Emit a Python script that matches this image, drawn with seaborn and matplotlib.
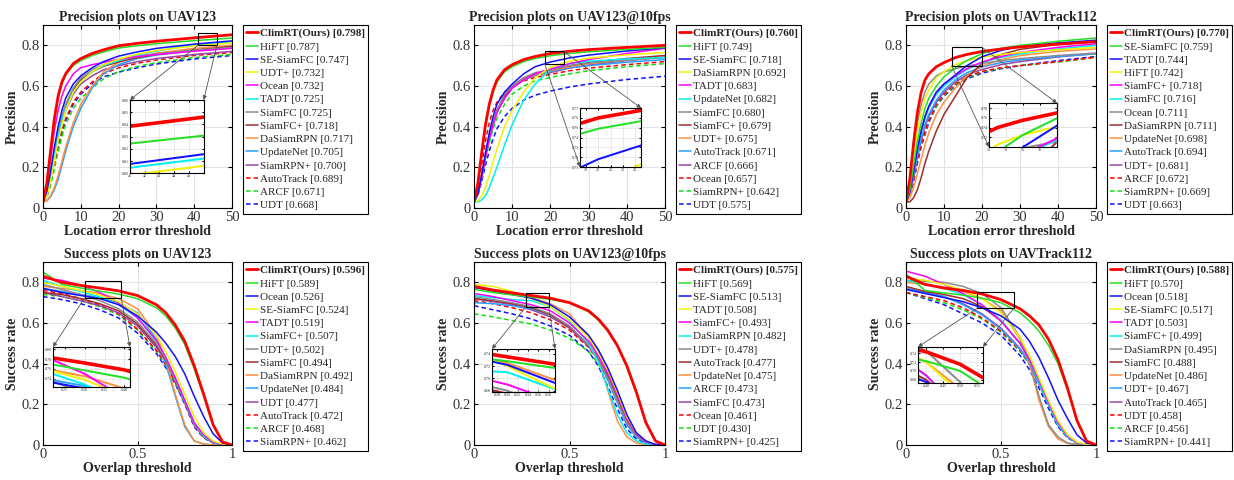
import matplotlib
matplotlib.use("Agg")
import matplotlib.pyplot as plt
from matplotlib.patches import Rectangle, ConnectionPatch
from matplotlib.lines import Line2D
import pandas as pd
import seaborn as sns

# x grids the curves were read at
prec_x = [0, 1, 2, 3, 4, 5, 6, 8, 10, 13, 16, 20, 25, 30, 40, 50]
succ_x = [0, 0.1, 0.2, 0.3, 0.4, 0.5, 0.6, 0.65, 0.7, 0.75, 0.8, 0.85, 0.9, 0.95, 1.0]

# ---- Precision, UAV123
p_uav123_names = ["ClimRT(Ours)", "HiFT", "SE-SiamFC", "UDT+", "Ocean", "TADT", "SiamFC",
                  "SiamFC+", "DaSiamRPN", "UpdateNet", "SiamRPN+", "AutoTrack", "ARCF", "UDT"]
p_uav123_scores = [0.798, 0.787, 0.747, 0.732, 0.732, 0.725, 0.725, 0.718, 0.717, 0.705,
                   0.700, 0.689, 0.671, 0.668]
p_uav123_curves = [
    [0.03, 0.12, 0.28, 0.44, 0.55, 0.62, 0.66, 0.71, 0.735, 0.76, 0.778, 0.798, 0.810, 0.820, 0.837, 0.852],
    [0.03, 0.11, 0.27, 0.43, 0.54, 0.61, 0.655, 0.70, 0.725, 0.75, 0.767, 0.787, 0.798, 0.808, 0.823, 0.836],
    [0.03, 0.08, 0.18, 0.30, 0.40, 0.48, 0.54, 0.61, 0.65, 0.69, 0.72, 0.747, 0.768, 0.785, 0.806, 0.822],
    [0.03, 0.06, 0.13, 0.23, 0.33, 0.41, 0.48, 0.57, 0.62, 0.67, 0.705, 0.732, 0.757, 0.775, 0.797, 0.812],
    [0.03, 0.10, 0.24, 0.38, 0.48, 0.55, 0.60, 0.66, 0.69, 0.705, 0.716, 0.732, 0.745, 0.755, 0.771, 0.785],
    [0.03, 0.06, 0.14, 0.25, 0.35, 0.43, 0.49, 0.57, 0.62, 0.67, 0.70, 0.725, 0.752, 0.772, 0.803, 0.818],
    [0.03, 0.07, 0.16, 0.27, 0.37, 0.45, 0.51, 0.59, 0.64, 0.68, 0.705, 0.725, 0.745, 0.758, 0.776, 0.790],
    [0.03, 0.07, 0.15, 0.26, 0.36, 0.44, 0.50, 0.58, 0.63, 0.67, 0.697, 0.718, 0.740, 0.755, 0.777, 0.795],
    [0.03, 0.035, 0.06, 0.10, 0.16, 0.23, 0.30, 0.42, 0.51, 0.60, 0.67, 0.717, 0.745, 0.762, 0.785, 0.800],
    [0.03, 0.035, 0.055, 0.09, 0.14, 0.21, 0.28, 0.40, 0.49, 0.59, 0.66, 0.705, 0.735, 0.752, 0.775, 0.790],
    [0.03, 0.06, 0.14, 0.24, 0.34, 0.42, 0.48, 0.56, 0.61, 0.65, 0.68, 0.700, 0.720, 0.735, 0.755, 0.770],
    [0.03, 0.06, 0.13, 0.22, 0.31, 0.38, 0.44, 0.52, 0.57, 0.62, 0.66, 0.689, 0.712, 0.728, 0.750, 0.765],
    [0.03, 0.05, 0.11, 0.19, 0.28, 0.35, 0.41, 0.49, 0.54, 0.59, 0.635, 0.671, 0.697, 0.715, 0.740, 0.755],
    [0.03, 0.06, 0.13, 0.22, 0.30, 0.37, 0.43, 0.51, 0.56, 0.61, 0.645, 0.668, 0.690, 0.708, 0.733, 0.750],
]

# ---- Precision, UAV123@10fps
p_10fps_names = ["ClimRT(Ours)", "HiFT", "SE-SiamFC", "DaSiamRPN", "TADT", "UpdateNet", "SiamFC",
                 "SiamFC+", "UDT+", "AutoTrack", "ARCF", "Ocean", "SiamRPN+", "UDT"]
p_10fps_scores = [0.760, 0.749, 0.718, 0.692, 0.683, 0.682, 0.680, 0.679, 0.675, 0.671,
                  0.666, 0.657, 0.642, 0.575]
p_10fps_curves = [
    [0.03, 0.12, 0.27, 0.41, 0.51, 0.58, 0.63, 0.68, 0.705, 0.73, 0.745, 0.760, 0.771, 0.779, 0.790, 0.800],
    [0.03, 0.11, 0.26, 0.40, 0.50, 0.57, 0.62, 0.67, 0.695, 0.72, 0.735, 0.749, 0.760, 0.768, 0.780, 0.790],
    [0.03, 0.07, 0.16, 0.27, 0.37, 0.45, 0.51, 0.57, 0.61, 0.66, 0.695, 0.718, 0.738, 0.752, 0.772, 0.788],
    [0.03, 0.035, 0.06, 0.10, 0.16, 0.23, 0.29, 0.40, 0.48, 0.57, 0.64, 0.692, 0.722, 0.737, 0.753, 0.765],
    [0.03, 0.07, 0.15, 0.25, 0.34, 0.41, 0.47, 0.54, 0.59, 0.63, 0.66, 0.683, 0.710, 0.730, 0.760, 0.785],
    [0.03, 0.03, 0.04, 0.06, 0.10, 0.15, 0.20, 0.31, 0.41, 0.53, 0.61, 0.682, 0.710, 0.722, 0.733, 0.740],
    [0.03, 0.07, 0.16, 0.26, 0.35, 0.42, 0.48, 0.56, 0.60, 0.64, 0.665, 0.680, 0.700, 0.713, 0.728, 0.740],
    [0.03, 0.07, 0.16, 0.26, 0.35, 0.42, 0.48, 0.55, 0.60, 0.64, 0.663, 0.679, 0.700, 0.715, 0.735, 0.750],
    [0.03, 0.07, 0.15, 0.25, 0.34, 0.41, 0.47, 0.55, 0.59, 0.63, 0.658, 0.675, 0.695, 0.710, 0.728, 0.742],
    [0.03, 0.07, 0.15, 0.25, 0.34, 0.41, 0.47, 0.55, 0.59, 0.63, 0.655, 0.671, 0.690, 0.700, 0.717, 0.730],
    [0.03, 0.07, 0.15, 0.25, 0.34, 0.41, 0.47, 0.54, 0.59, 0.63, 0.652, 0.666, 0.688, 0.703, 0.725, 0.742],
    [0.03, 0.09, 0.21, 0.33, 0.42, 0.48, 0.52, 0.57, 0.60, 0.625, 0.642, 0.657, 0.675, 0.688, 0.705, 0.720],
    [0.03, 0.07, 0.15, 0.24, 0.32, 0.39, 0.44, 0.51, 0.56, 0.60, 0.625, 0.642, 0.660, 0.675, 0.695, 0.710],
    [0.03, 0.06, 0.13, 0.21, 0.28, 0.34, 0.39, 0.45, 0.49, 0.53, 0.555, 0.575, 0.595, 0.610, 0.632, 0.648],
]

# ---- Precision, UAVTrack112
p_112_names = ["ClimRT(Ours)", "SE-SiamFC", "TADT", "HiFT", "SiamFC+", "SiamFC", "Ocean",
               "DaSiamRPN", "UpdateNet", "AutoTrack", "UDT+", "ARCF", "SiamRPN+", "UDT"]
p_112_scores = [0.770, 0.759, 0.744, 0.742, 0.718, 0.716, 0.711, 0.711, 0.698, 0.694,
                0.681, 0.672, 0.669, 0.663]
p_112_curves = [
    [0.03, 0.14, 0.32, 0.47, 0.57, 0.63, 0.66, 0.695, 0.715, 0.74, 0.755, 0.770, 0.782, 0.792, 0.806, 0.818],
    [0.03, 0.09, 0.21, 0.33, 0.42, 0.49, 0.54, 0.60, 0.645, 0.69, 0.725, 0.759, 0.785, 0.800, 0.820, 0.836],
    [0.03, 0.08, 0.18, 0.29, 0.38, 0.45, 0.50, 0.57, 0.61, 0.655, 0.700, 0.744, 0.775, 0.795, 0.812, 0.825],
    [0.03, 0.11, 0.25, 0.38, 0.47, 0.54, 0.58, 0.64, 0.67, 0.705, 0.725, 0.742, 0.755, 0.765, 0.778, 0.790],
    [0.03, 0.08, 0.18, 0.29, 0.38, 0.45, 0.50, 0.57, 0.61, 0.65, 0.685, 0.718, 0.745, 0.765, 0.790, 0.808],
    [0.03, 0.08, 0.18, 0.28, 0.37, 0.44, 0.49, 0.56, 0.60, 0.645, 0.680, 0.716, 0.740, 0.758, 0.782, 0.800],
    [0.03, 0.12, 0.28, 0.42, 0.51, 0.57, 0.61, 0.65, 0.67, 0.685, 0.698, 0.711, 0.724, 0.735, 0.750, 0.762],
    [0.03, 0.03, 0.05, 0.09, 0.15, 0.22, 0.28, 0.38, 0.46, 0.55, 0.64, 0.711, 0.755, 0.780, 0.805, 0.820],
    [0.03, 0.05, 0.10, 0.17, 0.24, 0.31, 0.37, 0.46, 0.52, 0.59, 0.65, 0.698, 0.730, 0.750, 0.770, 0.783],
    [0.03, 0.07, 0.16, 0.26, 0.34, 0.41, 0.46, 0.53, 0.58, 0.63, 0.665, 0.694, 0.715, 0.728, 0.745, 0.758],
    [0.03, 0.07, 0.15, 0.25, 0.33, 0.40, 0.45, 0.52, 0.57, 0.62, 0.655, 0.681, 0.705, 0.720, 0.743, 0.760],
    [0.03, 0.06, 0.14, 0.23, 0.31, 0.38, 0.43, 0.51, 0.56, 0.61, 0.645, 0.672, 0.690, 0.700, 0.720, 0.742],
    [0.03, 0.06, 0.14, 0.23, 0.31, 0.37, 0.43, 0.50, 0.555, 0.605, 0.640, 0.669, 0.688, 0.700, 0.718, 0.740],
    [0.03, 0.06, 0.13, 0.22, 0.30, 0.36, 0.42, 0.50, 0.55, 0.60, 0.635, 0.663, 0.685, 0.700, 0.725, 0.745],
]

# ---- Success, UAV123
s_uav123_names = ["ClimRT(Ours)", "HiFT", "Ocean", "SE-SiamFC", "TADT", "SiamFC+", "UDT+",
                  "SiamFC", "DaSiamRPN", "UpdateNet", "UDT", "AutoTrack", "ARCF", "SiamRPN+"]
s_uav123_scores = [0.596, 0.589, 0.526, 0.524, 0.519, 0.507, 0.502, 0.494, 0.492, 0.484,
                   0.477, 0.472, 0.468, 0.462]
s_uav123_curves = [
    [0.83, 0.80, 0.785, 0.772, 0.758, 0.735, 0.69, 0.65, 0.59, 0.51, 0.39, 0.25, 0.10, 0.015, 0.0],
    [0.85, 0.79, 0.772, 0.757, 0.742, 0.72, 0.675, 0.635, 0.575, 0.495, 0.375, 0.24, 0.095, 0.015, 0.0],
    [0.77, 0.75, 0.735, 0.72, 0.69, 0.635, 0.555, 0.50, 0.435, 0.35, 0.24, 0.14, 0.055, 0.01, 0.0],
    [0.80, 0.78, 0.76, 0.738, 0.705, 0.645, 0.54, 0.46, 0.36, 0.25, 0.14, 0.06, 0.02, 0.005, 0.0],
    [0.82, 0.81, 0.785, 0.75, 0.70, 0.625, 0.515, 0.43, 0.33, 0.22, 0.11, 0.05, 0.015, 0.003, 0.0],
    [0.81, 0.78, 0.755, 0.728, 0.69, 0.625, 0.51, 0.43, 0.33, 0.22, 0.11, 0.045, 0.012, 0.002, 0.0],
    [0.79, 0.765, 0.74, 0.71, 0.67, 0.605, 0.50, 0.42, 0.32, 0.21, 0.10, 0.04, 0.012, 0.002, 0.0],
    [0.75, 0.74, 0.72, 0.695, 0.66, 0.595, 0.49, 0.415, 0.32, 0.21, 0.10, 0.04, 0.012, 0.002, 0.0],
    [0.78, 0.77, 0.76, 0.745, 0.72, 0.67, 0.54, 0.42, 0.25, 0.10, 0.02, 0.005, 0.0, 0.0, 0.0],
    [0.77, 0.755, 0.74, 0.725, 0.70, 0.65, 0.52, 0.40, 0.24, 0.09, 0.02, 0.005, 0.0, 0.0, 0.0],
    [0.75, 0.73, 0.71, 0.685, 0.65, 0.585, 0.48, 0.41, 0.32, 0.21, 0.10, 0.04, 0.01, 0.002, 0.0],
    [0.76, 0.745, 0.72, 0.69, 0.645, 0.57, 0.465, 0.395, 0.31, 0.21, 0.10, 0.04, 0.01, 0.002, 0.0],
    [0.74, 0.73, 0.71, 0.68, 0.64, 0.565, 0.46, 0.39, 0.305, 0.205, 0.10, 0.04, 0.01, 0.002, 0.0],
    [0.73, 0.715, 0.695, 0.665, 0.625, 0.55, 0.45, 0.38, 0.30, 0.20, 0.09, 0.035, 0.01, 0.002, 0.0],
]

# ---- Success, UAV123@10fps
s_10fps_names = ["ClimRT(Ours)", "HiFT", "SE-SiamFC", "TADT", "SiamFC+", "DaSiamRPN", "UDT+",
                 "AutoTrack", "UpdateNet", "ARCF", "SiamFC", "Ocean", "UDT", "SiamRPN+"]
s_10fps_scores = [0.575, 0.569, 0.513, 0.508, 0.493, 0.482, 0.478, 0.477, 0.475, 0.473,
                  0.473, 0.461, 0.430, 0.425]
s_10fps_curves = [
    [0.78, 0.762, 0.748, 0.735, 0.722, 0.70, 0.66, 0.62, 0.565, 0.49, 0.39, 0.26, 0.11, 0.02, 0.0],
    [0.765, 0.75, 0.738, 0.728, 0.716, 0.70, 0.655, 0.615, 0.56, 0.49, 0.385, 0.255, 0.11, 0.02, 0.0],
    [0.775, 0.758, 0.74, 0.722, 0.69, 0.63, 0.54, 0.47, 0.38, 0.27, 0.15, 0.06, 0.02, 0.003, 0.0],
    [0.79, 0.78, 0.755, 0.72, 0.68, 0.615, 0.53, 0.46, 0.37, 0.26, 0.14, 0.06, 0.02, 0.003, 0.0],
    [0.745, 0.73, 0.71, 0.69, 0.66, 0.60, 0.51, 0.44, 0.355, 0.25, 0.13, 0.055, 0.015, 0.002, 0.0],
    [0.735, 0.725, 0.715, 0.71, 0.68, 0.61, 0.50, 0.41, 0.28, 0.15, 0.06, 0.02, 0.005, 0.0, 0.0],
    [0.73, 0.715, 0.70, 0.68, 0.645, 0.585, 0.49, 0.42, 0.33, 0.22, 0.11, 0.045, 0.012, 0.002, 0.0],
    [0.72, 0.71, 0.695, 0.675, 0.64, 0.58, 0.49, 0.425, 0.34, 0.23, 0.12, 0.05, 0.015, 0.002, 0.0],
    [0.775, 0.76, 0.745, 0.725, 0.695, 0.645, 0.53, 0.43, 0.27, 0.12, 0.04, 0.01, 0.002, 0.0, 0.0],
    [0.70, 0.695, 0.685, 0.67, 0.64, 0.585, 0.49, 0.42, 0.32, 0.21, 0.10, 0.04, 0.01, 0.002, 0.0],
    [0.72, 0.705, 0.69, 0.665, 0.63, 0.575, 0.485, 0.42, 0.335, 0.23, 0.12, 0.05, 0.015, 0.002, 0.0],
    [0.71, 0.695, 0.675, 0.65, 0.615, 0.565, 0.48, 0.415, 0.325, 0.22, 0.11, 0.045, 0.012, 0.002, 0.0],
    [0.645, 0.63, 0.612, 0.595, 0.565, 0.525, 0.46, 0.40, 0.32, 0.21, 0.10, 0.04, 0.01, 0.002, 0.0],
    [0.685, 0.665, 0.645, 0.62, 0.585, 0.54, 0.46, 0.39, 0.29, 0.18, 0.08, 0.03, 0.008, 0.001, 0.0],
]

# ---- Success, UAVTrack112
s_112_names = ["ClimRT(Ours)", "HiFT", "Ocean", "SE-SiamFC", "TADT", "SiamFC+", "DaSiamRPN",
               "SiamFC", "UpdateNet", "UDT+", "AutoTrack", "UDT", "ARCF", "SiamRPN+"]
s_112_scores = [0.588, 0.570, 0.518, 0.517, 0.503, 0.499, 0.495, 0.488, 0.486, 0.467,
                0.465, 0.458, 0.456, 0.441]
s_112_curves = [
    [0.83, 0.79, 0.772, 0.76, 0.743, 0.715, 0.67, 0.635, 0.59, 0.52, 0.42, 0.28, 0.12, 0.02, 0.0],
    [0.84, 0.76, 0.748, 0.737, 0.722, 0.70, 0.65, 0.61, 0.56, 0.49, 0.40, 0.27, 0.12, 0.02, 0.0],
    [0.765, 0.745, 0.725, 0.705, 0.675, 0.635, 0.57, 0.51, 0.43, 0.33, 0.22, 0.13, 0.05, 0.01, 0.0],
    [0.82, 0.81, 0.79, 0.762, 0.72, 0.65, 0.53, 0.44, 0.33, 0.22, 0.12, 0.05, 0.015, 0.002, 0.0],
    [0.855, 0.83, 0.79, 0.745, 0.69, 0.61, 0.50, 0.42, 0.32, 0.21, 0.11, 0.045, 0.012, 0.002, 0.0],
    [0.81, 0.79, 0.77, 0.74, 0.69, 0.615, 0.50, 0.42, 0.31, 0.20, 0.10, 0.04, 0.01, 0.002, 0.0],
    [0.81, 0.805, 0.80, 0.78, 0.745, 0.675, 0.53, 0.41, 0.24, 0.10, 0.04, 0.01, 0.002, 0.0, 0.0],
    [0.78, 0.755, 0.74, 0.72, 0.68, 0.61, 0.50, 0.42, 0.315, 0.21, 0.11, 0.045, 0.012, 0.002, 0.0],
    [0.80, 0.79, 0.775, 0.755, 0.72, 0.66, 0.52, 0.40, 0.22, 0.09, 0.03, 0.008, 0.002, 0.0, 0.0],
    [0.77, 0.75, 0.73, 0.69, 0.64, 0.57, 0.47, 0.40, 0.30, 0.20, 0.10, 0.04, 0.01, 0.002, 0.0],
    [0.77, 0.752, 0.73, 0.695, 0.645, 0.575, 0.475, 0.405, 0.305, 0.20, 0.10, 0.04, 0.01, 0.002, 0.0],
    [0.75, 0.73, 0.71, 0.675, 0.625, 0.56, 0.465, 0.40, 0.30, 0.20, 0.10, 0.04, 0.01, 0.002, 0.0],
    [0.75, 0.725, 0.70, 0.665, 0.62, 0.555, 0.46, 0.395, 0.30, 0.20, 0.10, 0.04, 0.01, 0.002, 0.0],
    [0.75, 0.72, 0.69, 0.645, 0.60, 0.54, 0.44, 0.37, 0.28, 0.18, 0.09, 0.035, 0.01, 0.002, 0.0],
]

# colours / styles follow the rank in each legend
rank_colors = ["#FF0000", "#22E022", "#1010FF", "#F2F200", "#FF00FF", "#00F0F0", "#8C8C8C",
               "#A02C2C", "#FF9040", "#2A9FFF", "#9A46A8", "#FF0000", "#10E010", "#1010FF"]
rank_dashed = [False] * 11 + [True] * 3
rank_widths = [2.0] + [1.1] * 13

sns.set_style("whitegrid", {"axes.edgecolor": "black", "grid.color": "#e2e2e2",
                            "xtick.bottom": True, "ytick.left": True,
                            "xtick.top": True, "ytick.right": True,
                            "xtick.direction": "in", "ytick.direction": "in"})
plt.rcParams["font.family"] = ["Liberation Serif", "DejaVu Serif"]
plt.rcParams["xtick.major.size"] = 3
plt.rcParams["ytick.major.size"] = 3
plt.rcParams["xtick.color"] = "black"
plt.rcParams["ytick.color"] = "black"
plt.rcParams["xtick.labelcolor"] = "#333333"
plt.rcParams["ytick.labelcolor"] = "#333333"

DASH = (3, 2)


def draw_curves(ax, xs, names, curves, scale=1.0):
    rows = []
    for n, c in zip(names, curves):
        for x, y in zip(xs, c):
            rows.append((n, x, y))
    df = pd.DataFrame(rows, columns=["tracker", "x", "y"])
    order = names[::-1]  # best tracker drawn last (on top)
    pal = dict(zip(names, rank_colors))
    dsh = {n: (DASH if d else "") for n, d in zip(names, rank_dashed)}
    siz = {n: w * scale for n, w in zip(names, rank_widths)}
    sns.lineplot(data=df, x="x", y="y", hue="tracker", style="tracker", size="tracker",
                 hue_order=order, style_order=order, size_order=order,
                 palette=pal, dashes=dsh, sizes=siz, legend=False,
                 sort=False, estimator=None, ax=ax)


def panel(ax, xs, names, scores, curves, title, kind, box, ins_pos, ins_xt, ins_yt, links):
    draw_curves(ax, xs, names, curves)
    ax.set_ylim(0, 0.9)
    ax.set_yticks([0, 0.2, 0.4, 0.6, 0.8])
    ax.set_yticklabels(["0", "0.2", "0.4", "0.6", "0.8"])
    if kind == "prec":
        ax.set_xlim(0, 50)
        ax.set_xticks([0, 10, 20, 30, 40, 50])
        ax.set_xlabel("Location error threshold", fontsize=10, fontweight="bold", labelpad=1)
        ax.set_ylabel("Precision", fontsize=10, fontweight="bold", labelpad=2)
    else:
        ax.set_xlim(0, 1)
        ax.set_xticks([0, 0.5, 1])
        ax.set_xticklabels(["0", "0.5", "1"])
        ax.set_xlabel("Overlap threshold", fontsize=10, fontweight="bold", labelpad=1)
        ax.set_ylabel("Success rate", fontsize=10, fontweight="bold", labelpad=2)
    ax.set_title(title, fontsize=10, fontweight="bold", pad=3)
    ax.tick_params(labelsize=10.5, pad=2)
    for s in ax.spines.values():
        s.set_linewidth(0.8)

    # legend
    handles = []
    for i, (n, sc) in enumerate(zip(names, scores)):
        handles.append(Line2D([], [], color=rank_colors[i], lw=rank_widths[i],
                              linestyle=(0, DASH) if rank_dashed[i] else "-",
                              label=f"{n} [{sc:.3f}]"))
    leg = ax.legend(handles=handles, loc="upper left", bbox_to_anchor=(1.056, 1.0),
                    borderaxespad=0, fontsize=8, frameon=True, fancybox=False,
                    edgecolor="black", framealpha=1, handlelength=1.1, handletextpad=0.15,
                    labelspacing=0.31, borderpad=0.3)
    leg.get_frame().set_linewidth(0.8)
    leg.get_texts()[0].set_fontweight("bold")

    # zoom rectangle + inset
    x0, x1, y0, y1 = box
    ax.add_patch(Rectangle((x0, y0), x1 - x0, y1 - y0, fill=False, ec="black", lw=0.8, zorder=20))
    axins = ax.inset_axes(ins_pos)
    draw_curves(axins, xs, names, curves, scale=1.3)
    axins.set_xlim(x0, x1)
    axins.set_ylim(y0, y1)
    axins.set_xticks(ins_xt)
    axins.set_yticks(ins_yt)
    axins.set_xlabel("")
    axins.set_ylabel("")
    axins.tick_params(labelsize=3, length=1.5, pad=0.8)
    axins.grid(True, color="#e2e2e2", lw=0.5)
    axins.set_facecolor("white")
    for s in axins.spines.values():
        s.set_linewidth(0.8)
    for (pa, pb) in links:
        cp = ConnectionPatch(xyA=pa, coordsA=ax.transData, xyB=pb, coordsB=axins.transAxes,
                             arrowstyle="-|>", mutation_scale=6, color="#555555", lw=0.6,
                             zorder=25)
        ax.add_artist(cp)


W, H = 1234, 480
fig = plt.figure(figsize=(W / 100, H / 100), dpi=100)


def add_ax(left_px, top_px, w_px, h_px):
    return fig.add_axes([left_px / W, 1 - (top_px + h_px) / H, w_px / W, h_px / H])


ax1 = add_ax(43, 25, 189, 183)
ax2 = add_ax(474, 25, 191, 183)
ax3 = add_ax(906, 25, 190, 183)
ax4 = add_ax(43, 262, 189, 183)
ax5 = add_ax(474, 262, 191, 183)
ax6 = add_ax(906, 262, 190, 183)

panel(ax1, prec_x, p_uav123_names, p_uav123_scores, p_uav123_curves,
      "Precision plots on UAV123", "prec", (41, 46, 0.80, 0.86),
      [0.46, 0.19, 0.39, 0.40], [41, 42, 43, 44, 45],
      [0.80, 0.81, 0.82, 0.83, 0.84, 0.85, 0.86],
      [((41, 0.80), (0, 1)), ((46, 0.80), (1, 1))])
panel(ax2, prec_x, p_10fps_names, p_10fps_scores, p_10fps_curves,
      "Precision plots on UAV123@10fps", "prec", (18.5, 23.5, 0.71, 0.77),
      [0.555, 0.224, 0.32, 0.322], [19, 20, 21, 22, 23],
      [0.71, 0.72, 0.73, 0.74, 0.75, 0.76, 0.77],
      [((18.5, 0.71), (0, 0)), ((23.5, 0.77), (1, 1))])
panel(ax3, prec_x, p_112_names, p_112_scores, p_112_curves,
      "Precision plots on UAVTrack112", "prec", (12, 20, 0.70, 0.79),
      [0.437, 0.333, 0.358, 0.24], [12, 14, 16, 18],
      [0.72, 0.74, 0.76, 0.78],
      [((12, 0.70), (0, 0)), ((20, 0.79), (1, 1))])
panel(ax4, succ_x, s_uav123_names, s_uav123_scores, s_uav123_curves,
      "Success plots on UAV123", "succ", (0.22, 0.414, 0.723, 0.805),
      [0.053, 0.317, 0.407, 0.219], [0.25, 0.3, 0.35, 0.4],
      [0.74, 0.76, 0.78, 0.8],
      [((0.22, 0.723), (0, 1)), ((0.414, 0.723), (1, 1))])
panel(ax5, succ_x, s_10fps_names, s_10fps_scores, s_10fps_curves,
      "Success plots on UAV123@10fps", "succ", (0.27, 0.392, 0.678, 0.748),
      [0.094, 0.29, 0.33, 0.235], [0.28, 0.30, 0.32, 0.34, 0.36, 0.38],
      [0.68, 0.70, 0.72, 0.74],
      [((0.27, 0.678), (0, 1)), ((0.392, 0.678), (1, 1))])
panel(ax6, succ_x, s_112_names, s_112_scores, s_112_curves,
      "Success plots on UAVTrack112", "succ", (0.376, 0.567, 0.673, 0.754),
      [0.063, 0.339, 0.342, 0.197], [0.4, 0.45, 0.5, 0.55],
      [0.68, 0.70, 0.72, 0.74],
      [((0.376, 0.673), (0, 1)), ((0.567, 0.673), (1, 1))])

fig.savefig("out.png", dpi=100, facecolor="white")
